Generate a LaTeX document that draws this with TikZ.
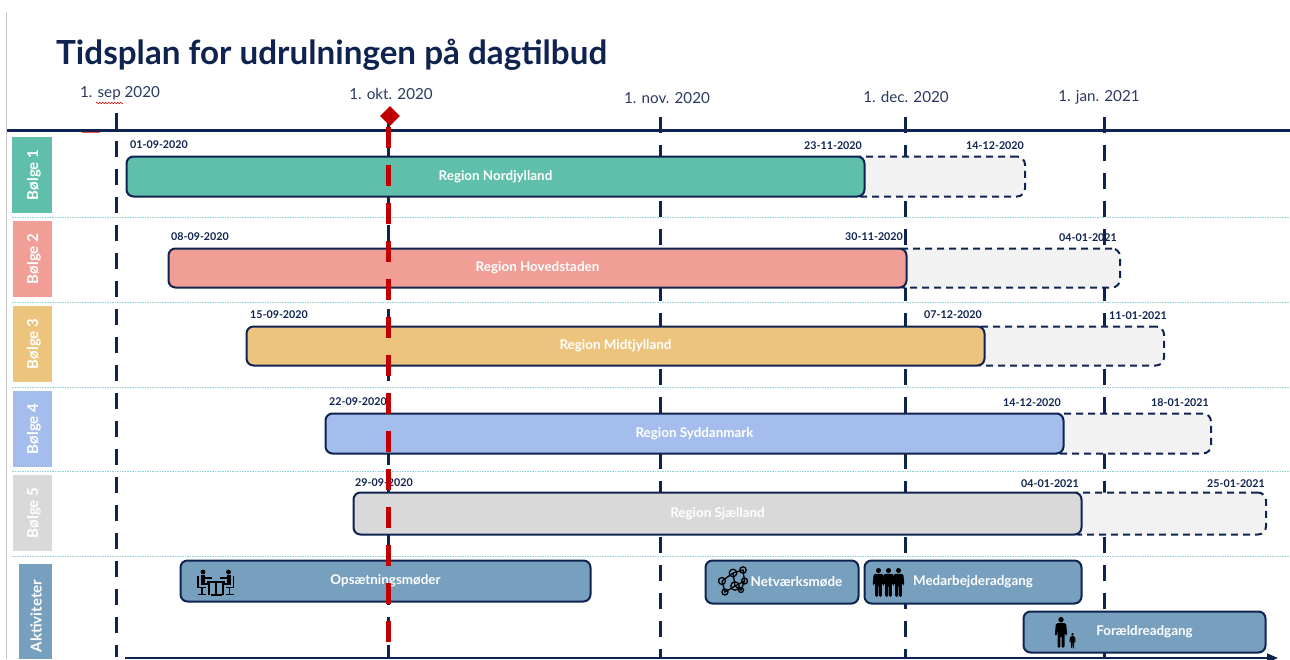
\documentclass[tikz,border=0pt]{standalone}
\usepackage{fontspec}
\setmainfont{Lato}
\usetikzlibrary{shapes.geometric,arrows.meta,decorations.pathmorphing}
\definecolor{navy}{HTML}{0F2350}
\definecolor{monthc}{HTML}{2A3A60}
\definecolor{redm}{HTML}{C00000}
\definecolor{ghost}{HTML}{F2F2F2}
\definecolor{wteal}{HTML}{5FBFAA}
\definecolor{wred}{HTML}{F09E96}
\definecolor{wgold}{HTML}{ECC47E}
\definecolor{wblue}{HTML}{A5BDEC}
\definecolor{wgray}{HTML}{D9D9D9}
\definecolor{wact}{HTML}{779FBE}
\definecolor{sepc}{HTML}{8FD3D6}
\tikzset{
  x=1pt,y=-1pt,
  bar/.style={draw=navy,line width=2pt,rounded corners=7pt,anchor=north west,inner sep=0pt,text=white,font=\fontsize{13.4}{15}\selectfont\bfseries,align=center},
  ghostbar/.style={draw=navy,line width=2pt,dash pattern=on 7pt off 5pt,rounded corners=8pt,fill=ghost,anchor=north west,inner sep=0pt},
  side/.style={anchor=north west,inner sep=0pt,text=white},
  sidetxt/.style={rotate=90,text=white,font=\fontsize{15}{17}\selectfont\bfseries,inner sep=0pt},
  datelbl/.style={text=navy,font=\fontsize{10.7}{12}\selectfont\bfseries,inner sep=0pt},
  monthlbl/.style={text=monthc,font=\fontsize{15.2}{17}\selectfont,inner sep=0pt},
  gridline/.style={navy,line width=3pt,dash pattern=on 16pt off 12pt},
  todayline/.style={redm,line width=4.5pt,dash pattern=on 21pt off 17pt},
  sepline/.style={sepc,line width=1pt,dash pattern=on 1.5pt off 1pt},
  axisline/.style={navy,line width=3.4pt},
}
\newcommand{\personicon}[3]{% x, y(top), scale
  \begin{scope}[shift={(#1,#2)},scale=#3]
    \fill[black] (0,2.6) circle (2.6);
    \fill[black,rounded corners=1.5pt] (-5,6) -- (5,6) -- (6,18) -- (4,18) -- (3.4,11) -- (3.4,30) -- (0.5,30) -- (0.5,18) -- (-0.5,18) -- (-0.5,30) -- (-3.4,30) -- (-3.4,11) -- (-4,18) -- (-6,18) -- cycle;
  \end{scope}}
\newcommand{\sitter}[3]{% x, y, direction
  \begin{scope}[shift={(#1,#2)},xscale=#3]
    \fill[black] (0,-9.5) circle (2.4);
    \fill[black] (-2.5,-6.5) rectangle (2,3);
    \fill[black] (0,-5) rectangle (9,-2.8);
    \fill[black] (-2.5,1.5) rectangle (6,3.8);
    \fill[black] (4.5,1.5) rectangle (6.5,13);
    \draw[black,line width=1.3pt] (-5,-5.5) -- (-5,6) -- (3,6);
    \draw[black,line width=1.5pt] (-1,6) -- (-1,12) (-5,13) -- (3,13);
  \end{scope}}
\begin{document}
\begin{tikzpicture}
\useasboundingbox (0,0) rectangle (1290,659);
\fill[white] (0,0) rectangle (1290,659);
% frame edge
\coordinate (frameT) at (6,12); \coordinate (frameB) at (6,659);
\draw[gray!45,line width=.8pt] (frameT) -- (frameB);
% title
\node[anchor=west,inner sep=0pt,text=navy,font=\fontsize{33.2}{38}\selectfont\bfseries] (title) at (56,55) {Tidsplan for udrulningen på dagtilbud};
% month labels
\node[monthlbl] (m1) at (120,93) {1. sep 2020};
\node[monthlbl] (m2) at (391,94) {1. okt. 2020};
\node[monthlbl] (m3) at (667,98) {1. nov. 2020};
\node[monthlbl] (m4) at (906,97) {1. dec. 2020};
\node[monthlbl] (m5) at (1099,97) {1. jan. 2021};
\coordinate (sq1) at (96,103); \coordinate (sq2) at (123,103);
\draw[red!80!black,line width=.6pt,decorate,decoration={zigzag,amplitude=.8pt,segment length=3pt}] (sq1) -- (sq2);
% grid lines
\coordinate (g1t) at (116,113); \coordinate (g1b) at (116,657);
\coordinate (g2t) at (388,113); \coordinate (g2b) at (388,657);
\coordinate (g3t) at (660,117); \coordinate (g3b) at (660,657);
\coordinate (g4t) at (905,117); \coordinate (g4b) at (905,657);
\coordinate (g5t) at (1104,117); \coordinate (g5b) at (1104,657);
\foreach \g in {1,2,3,4,5} \draw[gridline] (g\g t) -- (g\g b);
% axis
\coordinate (axL) at (7,130.5); \coordinate (axR) at (1290,130.5);
\draw[axisline] (axL) -- (axR);
\coordinate (rmL) at (82,132.5); \coordinate (rmR) at (100,132.5);
\draw[red!70,line width=1pt] (rmL) -- (rmR);
% row separators
\foreach \i/\yy in {1/217,2/302,3/387,4/471,5/556} {
  \coordinate (sL\i) at (12,\yy); \coordinate (sR\i) at (1290,\yy);
  \draw[sepline] (sL\i) -- (sR\i);
}
% side tabs
\node[side,fill=wteal,minimum width=40pt,minimum height=76pt] (s1) at (12,137) {};
\node[side,fill=wred,minimum width=39pt,minimum height=76pt] (s2) at (13,221) {};
\node[side,fill=wgold,minimum width=39pt,minimum height=76pt] (s3) at (13,306) {};
\node[side,fill=wblue,minimum width=39pt,minimum height=76pt] (s4) at (13,391) {};
\node[side,fill=wgray,minimum width=39pt,minimum height=76pt] (s5) at (13,475) {};
\node[side,fill=wact,minimum width=33pt,minimum height=95pt] (s6) at (19,564) {};
\node[sidetxt] (t1) at (34,175) {Bølge 1};
\node[sidetxt] (t2) at (34,259) {Bølge 2};
\node[sidetxt] (t3) at (34,344) {Bølge 3};
\node[sidetxt] (t4) at (34,429) {Bølge 4};
\node[sidetxt] (t5) at (34,513) {Bølge 5};
\node[sidetxt] (t6) at (36,616) {Aktiviteter};
% ghost bars
\node[ghostbar,minimum width=172pt,minimum height=40pt] (g1) at (852,155.5) {};
\node[ghostbar,minimum width=225pt,minimum height=39pt] (g2) at (894,247.5) {};
\node[ghostbar,minimum width=191pt,minimum height=39pt] (g3) at (972,325.5) {};
\node[ghostbar,minimum width=159pt,minimum height=40pt] (g4) at (1051,412.5) {};
\node[ghostbar,minimum width=196pt,minimum height=42pt] (g5) at (1069,491.5) {};
% bars
\node[bar,fill=wteal,minimum width=738pt,minimum height=40pt] (b1) at (125.5,155.5) {Region Nordjylland};
\node[bar,fill=wred,minimum width=738pt,minimum height=39pt] (b2) at (167.5,247.5) {Region Hovedstaden};
\node[bar,fill=wgold,minimum width=738pt,minimum height=39pt] (b3) at (245.5,325.5) {Region Midtjylland};
\node[bar,fill=wblue,minimum width=738pt,minimum height=40pt] (b4) at (324.5,412.5) {Region Syddanmark};
\node[bar,fill=wgray,minimum width=728pt,minimum height=42pt] (b5) at (352.5,491.5) {Region Sjælland};
% activities
\node[bar,fill=wact,minimum width=410pt,minimum height=41pt] (a1) at (179.5,559.5) {Opsætningsmøder};
\node[bar,fill=wact,minimum width=153pt,minimum height=43pt] (a2) at (704.5,559.5) {\hspace*{29pt}Netværksmøde};
\node[bar,fill=wact,minimum width=217pt,minimum height=43pt] (a3) at (863.5,559.5) {Medarbejderadgang};
\node[bar,fill=wact,minimum width=242pt,minimum height=41pt] (a4) at (1022.5,610.5) {Forældreadgang};
% date labels
\foreach \n/\xx/\yy/\t in {d1/159/145/01-09-2020,d2/833/146/23-11-2020,d3/995/146/14-12-2020,
  d4/200/237/08-09-2020,d5/874/237/30-11-2020,d6/1088/238/04-01-2021,
  d7/279/315/15-09-2020,d8/953/315/07-12-2020,d9/1138/316/11-01-2021,
  d10/358/402/22-09-2020,d11/1032/403/14-12-2020,d12/1180/403/18-01-2021,
  d13/384/483/29-09-2020,d14/1050/484/04-01-2021,d15/1236/484/25-01-2021}
  \node[datelbl] (\n) at (\xx,\yy) {\t};
% today marker
\coordinate (tT) at (388.5,127); \coordinate (tB) at (388.5,657);
\draw[todayline] (tT) -- (tB);
\node[diamond,fill=redm,inner sep=0pt,minimum width=20pt,minimum height=20pt] (today) at (390,116) {};
% bottom axis
\coordinate (baL) at (125,658); \coordinate (baR) at (1278,658);
\draw[navy,line width=2pt,-{Triangle[length=11pt,width=9pt]}] (baL) -- (baR);
% icons: meeting
\sitter{203}{581.5}{1}
\sitter{228.5}{581.5}{-1}
\fill[black] (207,580.5) rectangle (225,582.5);
\fill[black] (215,582.5) rectangle (217,594);
\fill[black] (210.5,594) rectangle (221.5,595.5);
% network
\begin{scope}[black,line width=1.3pt]
\draw (722,581) circle (3.5) (733,573) circle (3.8) (743,570) circle (3.2) (744.5,581) circle (3)
      (735,586) circle (4.2) (725,592) circle (3) (741,590) circle (2.5);
\draw (722,581) -- (733,573) -- (743,570) -- (744.5,581) -- (735,586) -- (725,592) -- (722,581) (735,586) -- (733,573) (735,586) -- (741,590) -- (744.5,581);
\end{scope}
% three people
\personicon{878.5}{568}{.97}
\personicon{888.5}{568}{.97}
\personicon{898.5}{568}{.97}
% parent and child
\personicon{1061}{617}{1.03}
\personicon{1072.5}{633}{.5}
\end{tikzpicture}
\end{document}
